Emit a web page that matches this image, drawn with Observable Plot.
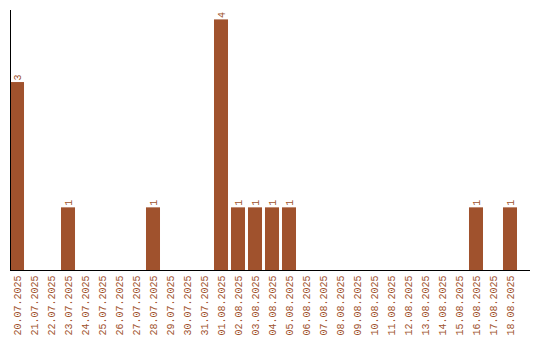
<!DOCTYPE html>
<html><head><meta charset="utf-8">
<script src="https://cdn.jsdelivr.net/npm/d3@7"></script>
<script src="https://cdn.jsdelivr.net/npm/@observablehq/plot@0.6"></script>
<style>body{margin:0;background:#fff}</style>
</head><body><div id="chart"></div>
<script>
const dates = ["20.07.2025","21.07.2025","22.07.2025","23.07.2025","24.07.2025","25.07.2025","26.07.2025","27.07.2025","28.07.2025","29.07.2025","30.07.2025","31.07.2025","01.08.2025","02.08.2025","03.08.2025","04.08.2025","05.08.2025","06.08.2025","07.08.2025","08.08.2025","09.08.2025","10.08.2025","11.08.2025","12.08.2025","13.08.2025","14.08.2025","15.08.2025","16.08.2025","17.08.2025","18.08.2025"];
const counts = [3,0,0,1,0,0,0,0,1,0,0,0,4,1,1,1,1,0,0,0,0,0,0,0,0,0,0,1,0,1];
const data = dates.map((d,i)=>({date:d, count:counts[i]}));
const nonzero = data.filter(d=>d.count>0);
const color = "#a0522d";
const chart = Plot.plot({
  width: 540, height: 340,
  marginLeft: 10, marginRight: 10, marginTop: 10, marginBottom: 70,
  style: {fontFamily: "'Liberation Mono', 'DejaVu Sans Mono', monospace", fontSize: "10px", background: "#fff"},
  x: {domain: dates, insetRight: 13, paddingInner: 0.176, paddingOuter: 0, round: false, label: null},
  y: {domain: [0, 4.15], label: null},
  marks: [
    Plot.barY(nonzero, {x: "date", y: "count", fill: color}),
    Plot.text(nonzero, {x: "date", y: "count", text: d=>String(d.count), rotate: -90, textAnchor: "start", dy: -2, fill: color, fontSize: 10}),
    Plot.axisX({tickRotate: -90, tickSize: 0, tickPadding: 5, fill: color, label: null}),
    Plot.axisY({ticks: [], label: null, tickSize: 0}),
    Plot.frame({anchor: "left", stroke: "black"}),
    Plot.ruleY([0], {stroke: "black", strokeWidth: 1})
  ]
});
document.getElementById("chart").appendChild(chart);
</script>
</body></html>
